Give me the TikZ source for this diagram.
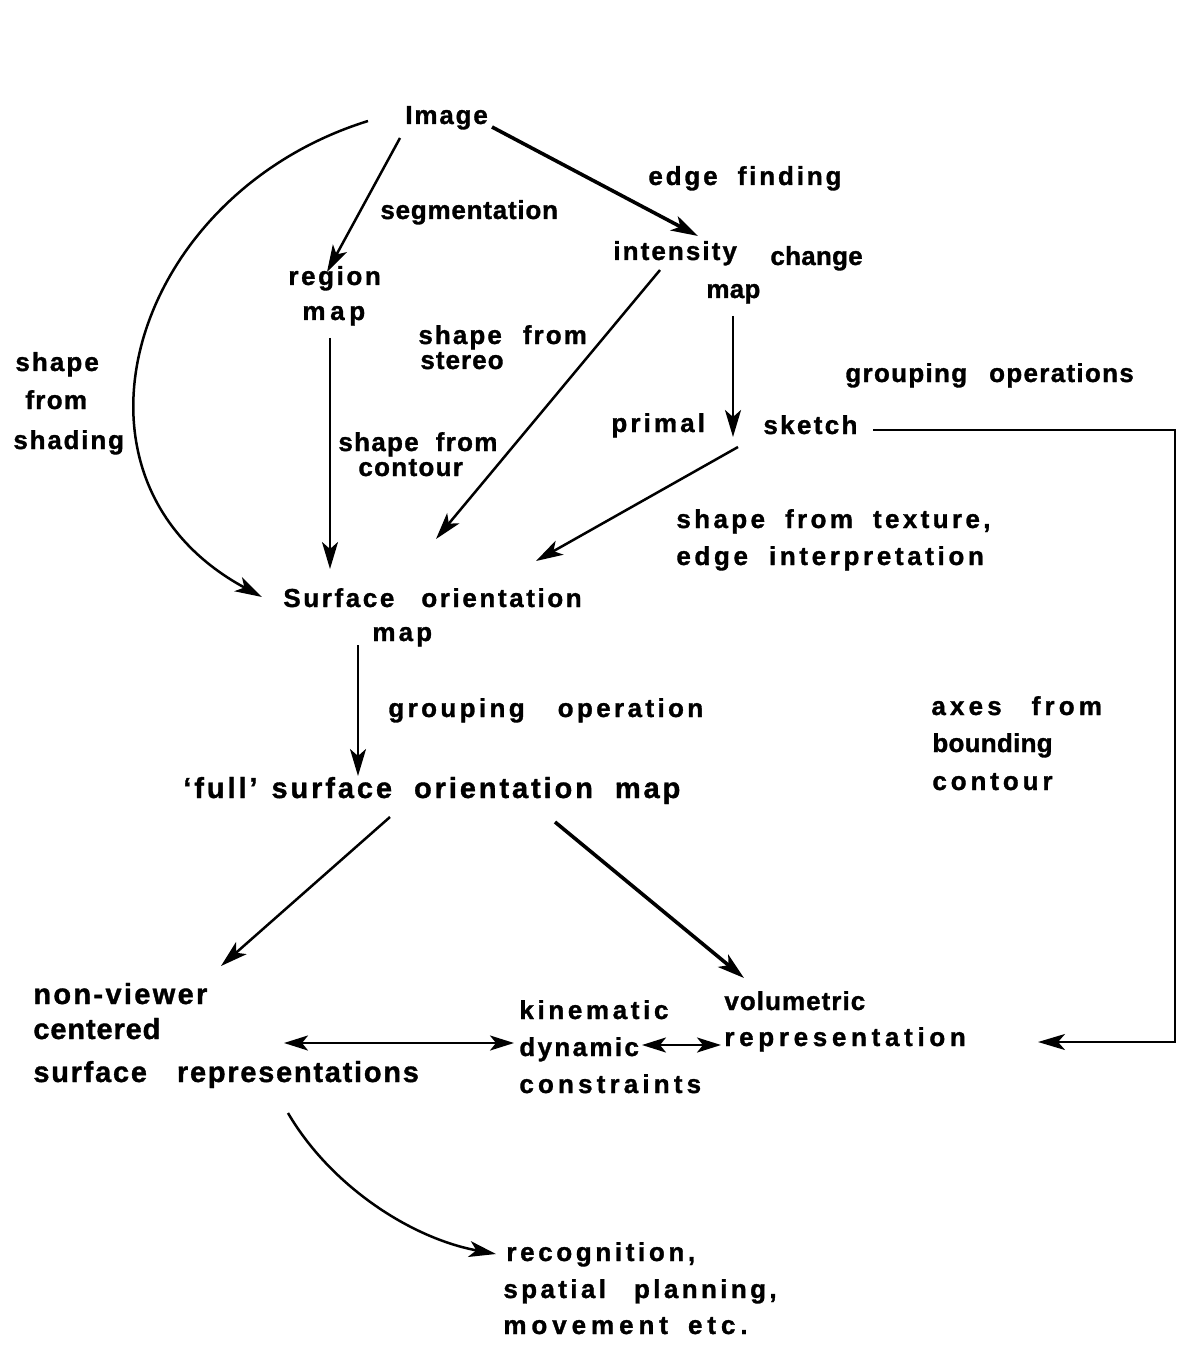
\documentclass[tikz,border=0pt]{standalone}
\usepackage{fontspec}
\setmainfont{Liberation Sans}
\newfontfamily\lblfont{Liberation Sans Bold}[FakeBold=1.2]
\usetikzlibrary{arrows.meta}
\newcommand\wg[1]{\hspace{#1pt}}
\begin{document}
\begin{tikzpicture}[x=0.5pt,y=-0.5pt,
  lbl/.style={anchor=base west, inner sep=0pt, font=\lblfont\fontsize{13}{15}\selectfont\addfontfeature{LetterSpace=#1}},
  lbl/.default=8,
  blbl/.style={anchor=base west, inner sep=0pt, font=\lblfont\fontsize{14.5}{16}\selectfont\addfontfeature{LetterSpace=#1}},
  blbl/.default=8,
  tip/.style={-{Stealth[length=13.5pt,width=8pt,inset=3.5pt]}},
  arr/.style={line width=1.25pt, tip},
  tarr/.style={line width=1.8pt, tip},
  darr/.style={line width=1.25pt, {Stealth[length=12pt,width=7.5pt,inset=3pt]}-{Stealth[length=12pt,width=7.5pt,inset=3pt]}}]
\useasboundingbox (0,0) rectangle (1183,1353);

% labels
\node[lbl=7] (image) at (405,124) {Image};
\node[lbl=11] (edgefinding) at (648,185) {edge\wg{10}finding};
\node[lbl=3] (segm) at (380,219) {segmentation};
\node[lbl=8] (intensity) at (613,260) {intensity};
\node[lbl=1] (change) at (770,265) {change};
\node[lbl=1] (imap) at (706,298) {map};
\node[lbl=10] (region) at (288,285) {region};
\node[lbl=18] (rmap) at (302,320) {map};
\node[lbl=8] (sfs) at (418,344) {shape\wg{10.5}from};
\node[lbl=4] (stereo) at (420,369) {stereo};
\node[lbl=8] (shshape) at (15,371) {shape};
\node[lbl=5] (shfrom) at (25,409) {from};
\node[lbl=7] (shading) at (13,449) {shading};
\node[lbl=5] (groupops) at (845,382) {grouping\wg{11}operations};
\node[lbl=12] (primal) at (611,432) {primal};
\node[lbl=9] (sketch) at (763,434) {sketch};
\node[lbl=5] (sfc) at (338,451) {shape\wg{8.5}from};
\node[lbl=5] (contourA) at (358,476) {contour};
\node[lbl=13] (sft) at (676,528) {shape\wg{10}from\wg{10}texture,};
\node[lbl=14] (edgeint) at (676,565) {edge\wg{10.5}interpretation};
\node[lbl=10] (surf) at (283,607) {Surface\wg{13.5}orientation};
\node[lbl=12] (smap) at (372,641) {map};
\node[lbl=13] (groupop) at (388,717) {grouping\wg{16.5}operation};
\node[lbl=16] (axes) at (931,715) {axes\wg{15}from};
\node[lbl=1] (bounding) at (932,752) {bounding};
\node[lbl=15] (contourB) at (932,790) {contour};
\node[blbl=10] (full) at (183,798) {‘full’\wg{7}surface\wg{11}orientation\wg{11}map};
\node[blbl=8] (nonviewer) at (33,1004) {non-viewer};
\node[blbl=3] (centered) at (33,1039) {centered};
\node[blbl=6] (surfrep) at (33,1082) {surface\wg{15}representations};
\node[lbl=14] (kinematic) at (519,1019) {kinematic};
\node[lbl=9] (dynamic) at (519,1056) {dynamic};
\node[lbl=16] (constraints) at (519,1093) {constraints};
\node[lbl=4] (volumetric) at (724,1010) {volumetric};
\node[lbl=18] (representation) at (724,1046) {representation};
\node[lbl=14] (recog) at (506,1261) {recognition,};
\node[lbl=13] (spatial) at (503,1298) {spatial\wg{14}planning,};
\node[lbl=19] (movement) at (503,1334) {movement\wg{10}etc.};

% connector end points
\coordinate (imgL) at (368,121);
\coordinate (imgB) at (400,138);
\coordinate (imgR) at (492,127);
\coordinate (regT) at (327,272);
\coordinate (intT) at (698,236);
\coordinate (regB) at (330,338);
\coordinate (surfT) at (330,569);
\coordinate (intB) at (660,270);
\coordinate (surfTR) at (436,539);
\coordinate (imapB) at (733,316);
\coordinate (skT) at (733,437);
\coordinate (skB) at (738,447);
\coordinate (surfR) at (536,561);
\coordinate (surfL) at (262,597);
\coordinate (skR) at (873,430);
\coordinate (c1) at (1175,430);
\coordinate (c2) at (1175,1042);
\coordinate (repR) at (1038,1042);
\coordinate (smapB) at (358,645);
\coordinate (fullT) at (358,776);
\coordinate (fullBL) at (390,817);
\coordinate (nvT) at (221,966);
\coordinate (fullBR) at (555,822);
\coordinate (volT) at (744,978);
\coordinate (srR) at (284,1043);
\coordinate (kinL) at (514,1043);
\coordinate (dynR) at (642,1045);
\coordinate (repL) at (721,1045);
\coordinate (srB) at (288,1113);
\coordinate (recL) at (496,1254);

% connectors
\draw[arr] (imgB) -- (regT);
\draw[tarr] (imgR) -- (intT);
\draw[arr] (imgL) .. controls (130,195) and (45,480) .. (surfL);
\draw[arr] (regB) -- (surfT);
\draw[arr] (intB) -- (surfTR);
\draw[arr] (imapB) -- (skT);
\draw[arr] (skB) -- (surfR);
\draw[arr] (skR) -- (c1) -- (c2) -- (repR);
\draw[arr] (smapB) -- (fullT);
\draw[arr] (fullBL) -- (nvT);
\draw[tarr] (fullBR) -- (volT);
\draw[darr] (srR) -- (kinL);
\draw[darr] (dynR) -- (repL);
\draw[arr] (srB) .. controls (330,1185) and (410,1238) .. (recL);
\end{tikzpicture}
\end{document}
